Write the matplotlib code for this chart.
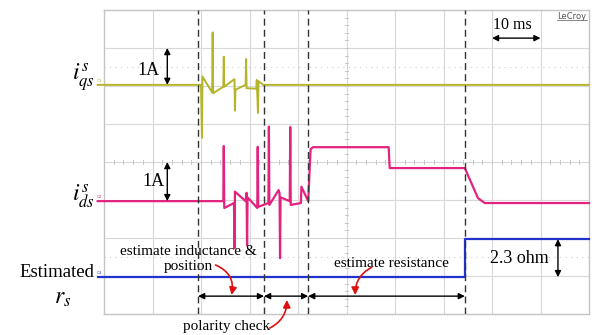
import numpy as np
import matplotlib
matplotlib.use("Agg")
import matplotlib.pyplot as plt
from matplotlib.lines import Line2D

plt.rcParams['mathtext.fontset'] = 'stix'

# scope data: time in ms (10 ms/div), currents in A (1 A/div), resistance in ohm
qs_t = [-1.3, 20.0, 20.2, 20.3, 22.3, 22.4, 22.5, 24.6, 24.7, 24.8, 26.9, 27.0,
        27.1, 29.2, 29.3, 29.4, 31.4, 31.5, 31.75, 31.85, 32.8, 100]
qs_a = [0, 0, -1.39, 0.22, -0.2, 1.38, -0.22, -0.05, 0.74, -0.05, 0.15, -0.68,
        -0.13, 0.0, 0.68, -0.09, -0.1, 0.13, -0.74, 0.1, 0.0, 0]

ds_t = [-1.3, 24.6, 24.7, 24.8, 26.8, 26.9, 27.0, 29.2, 29.4, 29.5, 29.6, 31.6,
        31.7, 31.8, 33.9, 34.0, 34.1, 36.0, 36.2, 36.3, 36.4, 38.3, 38.4, 38.5,
        40.6, 40.7, 42.1, 42.6, 43.1, 58.7, 58.9, 74.4, 77.1, 78.5, 100]
ds_a = [0, 0.0, 1.45, -0.18, -0.05, -1.24, 0.25, 0.0, 0.22, -1.16, 0.1, -0.18,
        1.43, -0.15, -0.05, 1.96, -0.1, 0.29, 0.2, -1.5, 0.1, 0.0, 1.95, -0.1,
        -0.05, 0.38, 0.0, 1.37, 1.42, 1.42, 0.87, 0.87, 0.08, -0.05, -0.05]

rs_t = [-1.3, 74.4, 74.4, 100]
rs_ohm = [0, 0, 2.3, 2.3]

event_t = [19.4, 33.0, 42.1, 74.4]

# channel offsets (div) and scale (unit/div)
off_qs, off_ds, off_rs = 6.03, 2.97, 0.97
ohm_per_div = 2.3

c_qs = '#b5b52c'
c_ds = '#e2237f'
c_rs = '#2233cc'

fig = plt.figure(figsize=(5.95, 3.35), dpi=100)
ax = fig.add_axes([104/595, 21/335, 485/595, 304/335])
ax.set_xlim(0, 100)
ax.set_ylim(0, 8)
ax.set_xticks([])
ax.set_yticks([])
for s in ax.spines.values():
    s.set_color('#c4c4c4')
    s.set_linewidth(1.0)

# graticule
for x in range(10, 100, 10):
    ax.axvline(x, color='#d8d8d8', lw=0.8, zorder=0)
for y in range(1, 8):
    ax.axhline(y, color='#d8d8d8', lw=0.8, zorder=0)
for y in [6.5, 1.5]:
    ax.axhline(y, color='#cfcfcf', lw=0.8, ls=(0, (1, 4)), zorder=0)
for y in np.arange(0.2, 8, 0.2):
    ax.plot([49.6, 50.4], [y, y], color='#c8c8c8', lw=0.7, zorder=0)
for x in np.arange(2, 100, 2):
    ax.plot([x, x], [3.94, 4.06], color='#c8c8c8', lw=0.7, zorder=0)

# traces
ax.plot(qs_t, np.array(qs_a) + off_qs, color=c_qs, lw=1.4, clip_on=False, zorder=3)
ax.plot(ds_t, np.array(ds_a) + off_ds, color=c_ds, lw=1.6, clip_on=False, zorder=3)
ax.plot(rs_t, np.array(rs_ohm) / ohm_per_div + off_rs, color=c_rs, lw=1.6,
        clip_on=False, zorder=3)

for lab, off, c in [('C1', off_qs, c_qs), ('C2', off_ds, c_ds), ('C3', off_rs, c_rs)]:
    ax.text(-1.4, off + 0.06, lab, fontsize=3, color=c, ha='left', va='bottom')

# phase boundaries
ax.vlines(event_t, 0, 8, colors='#333333', linestyles=(0, (5, 3)), lw=1.0, zorder=4)

arr = dict(arrowstyle='<|-|>', color='black', lw=1.0, mutation_scale=9, shrinkA=0, shrinkB=0)
for a, b in zip(event_t[:-1], event_t[1:]):
    ax.annotate('', xy=(b, 0.47), xytext=(a, 0.47), arrowprops=arr)

# scale markers
ax.annotate('', xy=(13.05, 7.0), xytext=(13.05, off_qs), arrowprops=arr)
ax.annotate('', xy=(13.05, 4.0), xytext=(13.05, off_ds), arrowprops=arr)
ax.text(9.1, 6.42, '1A', fontsize=13, family='Liberation Serif', ha='center', va='center')
ax.text(10.3, 3.48, '1A', fontsize=13, family='Liberation Serif', ha='center', va='center')

ax.annotate('', xy=(90, 7.26), xytext=(80, 7.26), arrowprops=arr)
ax.text(84.1, 7.6, '10 ms', fontsize=11.5, family='Liberation Serif', ha='center', va='center')

ax.annotate('', xy=(93.6, off_rs + 2.3 / ohm_per_div), xytext=(93.6, off_rs), arrowprops=arr)
ax.text(85.7, 1.47, '2.3 ohm', fontsize=13, family='Liberation Serif', ha='center', va='center')

ax.text(99.4, 7.83, 'LeCroy', fontsize=6, color='#555555', ha='right', va='center')
fig.add_artist(Line2D([557/595, 587/595], [1 - 20/335, 1 - 20/335], color='#555555', lw=0.5))

# phase annotations
serif = dict(family='Liberation Serif', fontsize=11, ha='center', va='center')
ax.text(17.3, 1.64, 'estimate inductance &', **serif)
ax.text(17.3, 1.245, 'position', **serif)
ax.text(25.2, -0.34, 'polarity check', clip_on=False, **serif)
ax.text(59.3, 1.34, 'estimate resistance', **serif)

red = dict(arrowstyle='-|>', color='#dd1111', lw=1.2, mutation_scale=11, shrinkA=0, shrinkB=0)
ax.annotate('', xy=(26.3, 0.5), xytext=(23.0, 1.29),
            arrowprops=dict(red, connectionstyle='arc3,rad=-0.4'))
ax.annotate('', xy=(37.7, 0.37), xytext=(34.2, -0.37), annotation_clip=False,
            arrowprops=dict(red, connectionstyle='arc3,rad=0.3'))
ax.annotate('', xy=(51.8, 0.5), xytext=(55.2, 1.23),
            arrowprops=dict(red, connectionstyle='arc3,rad=0.3'))

# channel labels
ax.text(-1.9, 6.2, r'$i_{qs}^{s}$', fontsize=17, ha='right', va='center')
ax.text(-1.9, 3.1, r'$i_{ds}^{s}$', fontsize=17, ha='right', va='center')
ax.text(-1.9, 1.1, 'Estimated', fontsize=13.5, family='Liberation Serif', ha='right', va='center')
ax.text(-6.8, 0.45, r'$r_{s}$', fontsize=17, ha='right', va='center')

fig.savefig('out.png', dpi=100, facecolor='white')
